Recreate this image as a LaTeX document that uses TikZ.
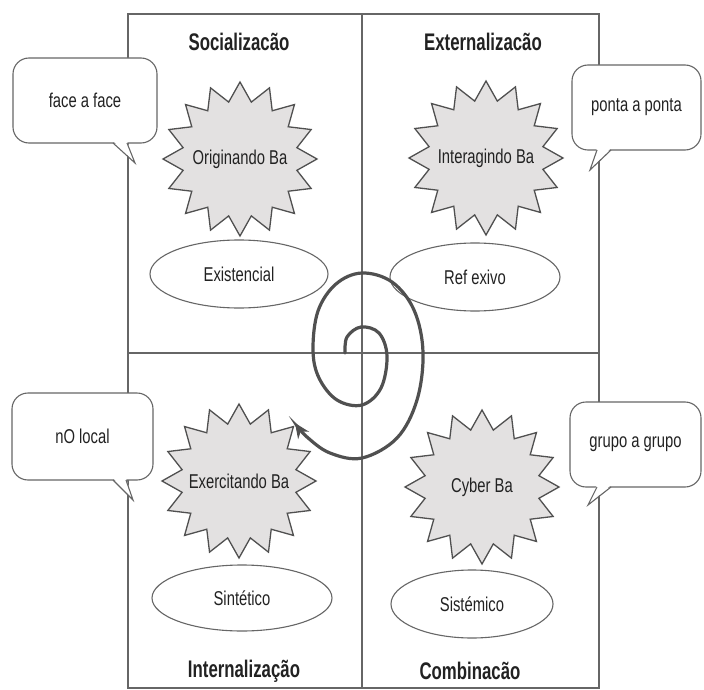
\documentclass[tikz,border=0pt]{standalone}
\usepackage{fontspec}
\setmainfont{Liberation Sans}
\newfontfamily\labfont[FakeStretch=0.74]{Liberation Sans}
\newfontfamily\ttlfont[FakeStretch=0.70]{Liberation Sans Bold}
\usetikzlibrary{shapes.geometric,arrows.meta}
\definecolor{linegray}{HTML}{666666}
\definecolor{stargray}{HTML}{505050}
\definecolor{starfill}{HTML}{E3E1E1}
\definecolor{txt}{HTML}{222222}
\tikzset{
  frameline/.style={draw=linegray, line width=1.1pt},
  starline/.style={draw=stargray, line width=1.3pt, fill=starfill, line join=miter},
  startext/.style={circle, inner sep=0pt, minimum size=110pt, text=txt, font=\labfont\fontsize{20}{22}\selectfont},
  ellbox/.style={ellipse, draw=linegray, line width=1.1pt, fill=white, inner sep=0pt, text=txt,
    font=\labfont\fontsize{20}{22}\selectfont},
  bubble/.style={rectangle, rounded corners=16pt, draw=linegray, line width=1.1pt, fill=white, text=txt,
    font=\labfont\fontsize{20}{22}\selectfont},
  tailfill/.style={fill=white},
  tailline/.style={draw=linegray, line width=1.1pt, line join=miter},
  titletext/.style={text=txt, font=\ttlfont\fontsize{24}{26}\selectfont},
  spiral/.style={draw=stargray, line width=3.2pt, line cap=round,
    -{Stealth[length=15pt,width=13pt]}}
}
\newcommand\mystarshape[2]{%
  \draw[starline] plot[samples at={0,...,31}, variable=\k]
    ({#1+(mod(\k,2)==0 ? 77 : 58)*cos(90+\k*11.25)},
     {#2-(mod(\k,2)==0 ? 77 : 58)*sin(90+\k*11.25)}) -- cycle;}
\begin{document}
\begin{tikzpicture}[x=1pt,y=-1pt]
\useasboundingbox (0,0) rectangle (704,690);
\fill[white] (0,0) rectangle (704,690);
% frame
\coordinate (tl) at (128,14);
\coordinate (br) at (599,688);
\coordinate (tm) at (362,14);
\coordinate (bm) at (362,688);
\coordinate (ml) at (128,353);
\coordinate (mr) at (599,353);
\draw[frameline] (tl) rectangle (br);
\draw[frameline] (tm) -- (bm);
\draw[frameline] (ml) -- (mr);
% titles
\node[titletext] (t1) at (239,42) {Socializacão};
\node[titletext] (t2) at (483,42) {Externalizacão};
\node[titletext] (t3) at (244,671) {Internalização};
\node[titletext] (t4) at (470,671) {Combinacão};
% bubbles
\node[bubble, minimum width=144pt, minimum height=85pt] (b1) at (85,100.5) {face a face};
\fill[tailfill] (113,141) -- (127,141) -- (135,163) -- cycle;
\draw[tailline] (113,143) -- (135,163) -- (127,143);
\node[bubble, minimum width=129pt, minimum height=85pt] (b2) at (636.5,107.5) {ponta a ponta};
\fill[tailfill] (597,148) -- (611,148) -- (590,170) -- cycle;
\draw[tailline] (597,150) -- (590,170) -- (611,150);
\node[bubble, minimum width=141pt, minimum height=87pt] (b3) at (82.5,436.5) {nO local};
\fill[tailfill] (113,478) -- (126,478) -- (133,500) -- cycle;
\draw[tailline] (113,480) -- (133,500) -- (126,480);
\node[bubble, minimum width=131pt, minimum height=85pt] (b4) at (635.5,444.5) {grupo a grupo};
\fill[tailfill] (597,485) -- (611,485) -- (588,505) -- cycle;
\draw[tailline] (597,487) -- (588,505) -- (611,487);
% stars
\mystarshape{240}{159}
\mystarshape{486}{158}
\mystarshape{239}{481}
\mystarshape{482}{487}
\node[startext] (s1) at (240,159) {Originando Ba};
\node[startext] (s2) at (486,158) {Interagindo Ba};
\node[startext] (s3) at (239,481) {Exercitando Ba};
\node[startext] (s4) at (482,487) {Cyber Ba};
% ellipses
\node[ellbox, minimum width=178pt, minimum height=68pt] (e1) at (239,274) {Existencial};
\node[ellbox, minimum width=170pt, minimum height=68pt] (e2) at (475,277) {Ref exivo};
\node[ellbox, minimum width=180pt, minimum height=66pt] (e3) at (242,598) {Sintético};
\node[ellbox, minimum width=162pt, minimum height=68pt] (e4) at (472,604) {Sistémico};
% spiral
\draw[spiral] plot[smooth, tension=0.6] coordinates {
 (345,353) (347,337) (361,327) (379,333) (387,356) (381,388) (362,405)
 (337,400) (319,378) (313,350) (318,311) (336,284) (362,273) (392,282)
 (414,310) (423,352) (417,400) (397,438) (362,458) (330,453) (307,437) (295,423)};
\end{tikzpicture}
\end{document}
